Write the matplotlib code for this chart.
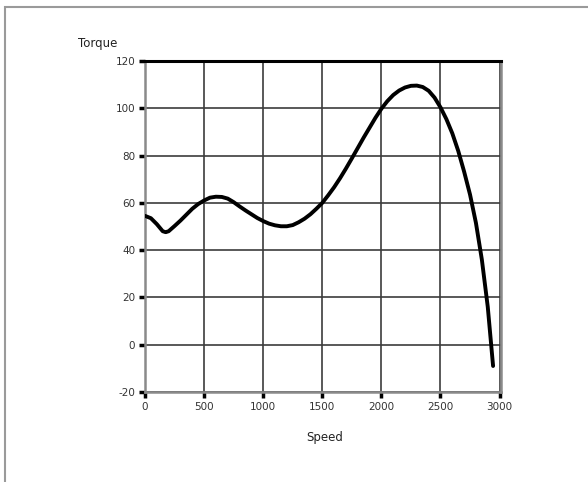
import numpy as np
import matplotlib.pyplot as plt
from matplotlib.patches import Rectangle

plt.rcParams['axes.unicode_minus'] = False

# torque curve over the speed range
speed = [0, 50, 100, 150, 175, 200, 250, 300, 350, 400, 450, 500, 550,
         600, 650, 700, 750, 800, 850, 900, 950, 1000, 1050, 1100, 1150,
         1200, 1250, 1300, 1350, 1400, 1450, 1500, 1550, 1600, 1650, 1700,
         1750, 1800, 1850, 1900, 1950, 2000, 2050, 2100, 2150, 2200, 2250,
         2300, 2350, 2400, 2450, 2500, 2550, 2600, 2650, 2700, 2750, 2800,
         2850, 2900, 2945]
torque = [54.5, 53.5, 51, 48, 47.6, 48, 50.2, 52.5, 55, 57.5, 59.5, 61,
          62.2, 62.6, 62.5, 61.8, 60.3, 58.5, 56.8, 55.2, 53.6, 52.3, 51.2,
          50.5, 50.1, 50.1, 50.6, 51.8, 53.3, 55.2, 57.5, 60, 63.2, 66.6,
          70.4, 74.5, 78.8, 83.2, 87.6, 91.8, 96, 99.8, 103, 105.6, 107.5,
          108.8, 109.5, 109.6, 109, 107.4, 104.5, 100.4, 95.4, 89.4, 82,
          73.2, 63.5, 51.5, 36, 16, -9]

xticks = [0, 500, 1000, 1500, 2000, 2500, 3000]
yticks = [-20, 0, 20, 40, 60, 80, 100, 120]

fig = plt.figure(figsize=(5.88, 4.82), dpi=100)
fig.patches.append(Rectangle((5 / 588, -0.1), 1.2, 1.1 - 7 / 482,
                             transform=fig.transFigure, fill=False,
                             edgecolor='#9a9a9a', linewidth=1.5))

ax = fig.add_axes([145 / 588, 1 - 392 / 482, 356 / 588, 331 / 482])
ax.set_xlim(0, 3012)
ax.set_ylim(-20, 120)
ax.set_xticks(xticks)
ax.set_yticks(yticks)
ax.grid(True, color='#3c3c3c', linewidth=1.2)
ax.set_axisbelow(True)

ax.plot(speed, torque, color='black', linewidth=2.8,
        solid_capstyle='round', solid_joinstyle='round', zorder=3)

for side in ['left', 'bottom', 'right']:
    ax.spines[side].set_color('#8a8a8a')
    ax.spines[side].set_linewidth(1.8)
ax.spines['top'].set_color('black')
ax.spines['top'].set_linewidth(2.2)

ax.tick_params(direction='out', length=4, width=2.5, color='black',
               labelsize=7.5, labelcolor='#333333', pad=3)

fig.text(78 / 588, 1 - 43 / 482, 'Torque', fontsize=8.5, color='#222222',
         va='center', ha='left')
fig.text(325 / 588, 1 - 438 / 482, 'Speed', fontsize=8.5, color='#222222',
         va='center', ha='center')

fig.savefig('out.png', dpi=100)
